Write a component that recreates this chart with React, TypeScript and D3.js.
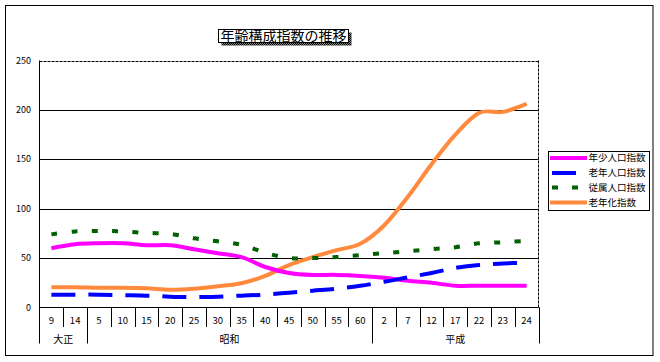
import * as d3 from "d3";
import React, { useEffect, useRef } from "react";

// 年齢構成指数の推移
const categories = ["9", "14", "5", "10", "15", "20", "25", "30", "35", "40", "45", "50", "55", "60", "2", "7", "12", "17", "22", "23", "24"];
const eraNames = ["大正", "昭和", "平成"];
const eraSpans = [2, 12, 7];
const yTicks = [0, 50, 100, 150, 200, 250];

const youthIndex = [60, 64, 65, 65, 63, 63, 59, 55, 51, 41, 35, 33, 33, 32, 30, 27, 25, 22, 22, 22, 22];
const elderlyIndex = [13, 13, 13, 12.5, 12, 11, 10.5, 11, 12, 13, 15, 17, 19, 22, 26, 30.5, 35, 40, 43, 44.5, 45.5];
const dependencyIndex = [74, 77, 77.5, 77, 75.5, 74.5, 70, 67, 63.5, 55.5, 50, 50, 51, 53, 55, 57, 59, 61, 65, 66, 67.5];
const agingIndex = [20.5, 20.5, 20, 20, 19.5, 18, 19, 21.5, 24.5, 32, 43, 51, 58, 64.5, 83, 112, 145, 175, 197, 198, 206];

const seriesNames = ["年少人口指数", "老年人口指数", "従属人口指数", "老年化指数"];

const FONT = "'Noto Sans CJK JP', 'Liberation Sans', sans-serif";
const ORANGE = "#FF8A3D";

export default function App() {
    const svgRef = useRef<SVGSVGElement | null>(null);

    useEffect(() => {
        if (!svgRef.current) return;
        const svg = d3.select(svgRef.current);
        svg.selectAll("*").remove();

        const width = 660;
        const height = 362;
        const left = 39.5, right = 538.5, top = 60.5, bottom = 307.5;

        svg.attr("width", width).attr("height", height);

        // patterns for dithered fills
        const defs = svg.append("defs");
        const chk = (id: string, a: string, b: string) => {
            const p = defs.append("pattern").attr("id", id)
                .attr("patternUnits", "userSpaceOnUse")
                .attr("width", 2).attr("height", 2);
            p.append("rect").attr("width", 2).attr("height", 2).attr("fill", b);
            p.append("rect").attr("width", 1).attr("height", 1).attr("fill", a);
            p.append("rect").attr("x", 1).attr("y", 1).attr("width", 1).attr("height", 1).attr("fill", a);
        };
        chk("greenChk", "#008000", "#004000");
        chk("shadowChk", "#000000", "#808080");

        svg.append("rect").attr("width", width).attr("height", height).attr("fill", "#fff");

        // outer frame
        svg.append("rect")
            .attr("x", 5.5).attr("y", 5.5)
            .attr("width", 647.5).attr("height", 350)
            .attr("fill", "none").attr("stroke", "#000");

        const x = d3.scaleBand<string>().domain(categories).range([left, right]).padding(0);
        const y = d3.scaleLinear().domain([0, 250]).range([bottom, top]);
        const cx = (i: number) => (x(categories[i]) as number) + x.bandwidth() / 2;

        // gridlines
        yTicks.forEach((t) => {
            if (t === 0) return;
            svg.append("line")
                .attr("x1", left).attr("x2", right)
                .attr("y1", Math.round(y(t)) + 0.5).attr("y2", Math.round(y(t)) + 0.5)
                .attr("stroke", "#000")
                .attr("stroke-dasharray", t === 250 ? "3 1" : null);
        });
        // right edge of plot (dashed)
        svg.append("line")
            .attr("x1", right).attr("x2", right)
            .attr("y1", top).attr("y2", bottom)
            .attr("stroke", "#000").attr("stroke-dasharray", "3 1");

        // y labels
        svg.selectAll(".ylab").data(yTicks).enter().append("text")
            .attr("class", "ylab")
            .attr("x", 31).attr("y", (d) => y(d))
            .attr("dy", "0.35em")
            .attr("text-anchor", "end")
            .style("font-family", FONT).style("font-size", "9px")
            .text((d) => d);

        // x axis table
        svg.append("line").attr("x1", left).attr("x2", right)
            .attr("y1", bottom).attr("y2", bottom).attr("stroke", "#000");
        svg.append("line").attr("x1", left).attr("x2", left)
            .attr("y1", top).attr("y2", 343.5).attr("stroke", "#000");
        categories.forEach((c, i) => {
            const xb = Math.round((x(c) as number) + x.bandwidth()) + 0.5;
            svg.append("line").attr("x1", xb).attr("x2", xb)
                .attr("y1", bottom).attr("y2", 327).attr("stroke", "#000");
            svg.append("text")
                .attr("x", cx(i)).attr("y", 320.5)
                .attr("dy", "0.35em").attr("text-anchor", "middle")
                .style("font-family", FONT).style("font-size", "9.5px")
                .text(c);
        });
        let start = 0;
        eraNames.forEach((name, k) => {
            const end = start + eraSpans[k];
            const x0 = x(categories[start]) as number;
            const x1 = (x(categories[end - 1]) as number) + x.bandwidth();
            const xb = Math.round(x1) + 0.5;
            svg.append("line").attr("x1", xb).attr("x2", xb)
                .attr("y1", bottom).attr("y2", 343.5).attr("stroke", "#000");
            svg.append("text")
                .attr("x", (x0 + x1) / 2).attr("y", 339)
                .attr("dy", "0.35em").attr("text-anchor", "middle")
                .style("font-family", FONT).style("font-size", "10px")
                .text(name);
            start = end;
        });

        // series
        const line = d3.line<number>()
            .x((d, i) => cx(i))
            .y((d) => y(d))
            .curve(d3.curveCardinal.tension(0));

        svg.append("path").attr("d", line(agingIndex))
            .attr("fill", "none").attr("stroke", ORANGE).attr("stroke-width", 4);
        svg.append("path").attr("d", line(dependencyIndex))
            .attr("fill", "none").attr("stroke", "url(#greenChk)").attr("stroke-width", 4)
            .attr("stroke-dasharray", "6 14.3");
        svg.append("path").attr("d", line(youthIndex))
            .attr("fill", "none").attr("stroke", "#FF00FF").attr("stroke-width", 4);
        svg.append("path").attr("d", line(elderlyIndex))
            .attr("fill", "none").attr("stroke", "#0000FF").attr("stroke-width", 4)
            .attr("stroke-dasharray", "24 13");

        // title
        svg.append("rect").attr("x", 221.5).attr("y", 32.5).attr("width", 130).attr("height", 13)
            .attr("fill", "url(#shadowChk)");
        svg.append("rect").attr("x", 218.5).attr("y", 29.5).attr("width", 130).attr("height", 13)
            .attr("fill", "#fff").attr("stroke", "#000");
        svg.append("text")
            .attr("x", 283.5).attr("y", 36)
            .attr("dy", "0.36em").attr("text-anchor", "middle")
            .style("font-family", FONT).style("font-size", "14px")
            .text("年齢構成指数の推移");

        // legend
        const lg = svg.append("g");
        lg.append("rect").attr("x", 548.5).attr("y", 151.5).attr("width", 101).attr("height", 59)
            .attr("fill", "#fff").attr("stroke", "#000");
        const rowY = [158, 173, 187.5, 202.5];
        lg.append("line").attr("x1", 550).attr("x2", 587).attr("y1", rowY[0]).attr("y2", rowY[0])
            .attr("stroke", "#FF00FF").attr("stroke-width", 4);
        lg.append("line").attr("x1", 552).attr("x2", 576).attr("y1", rowY[1]).attr("y2", rowY[1])
            .attr("stroke", "#0000FF").attr("stroke-width", 4);
        lg.append("line").attr("x1", 552).attr("x2", 579).attr("y1", rowY[2]).attr("y2", rowY[2])
            .attr("stroke", "url(#greenChk)").attr("stroke-width", 4).attr("stroke-dasharray", "6 14");
        lg.append("line").attr("x1", 550).attr("x2", 587).attr("y1", rowY[3]).attr("y2", rowY[3])
            .attr("stroke", ORANGE).attr("stroke-width", 4);
        seriesNames.forEach((n, i) => {
            lg.append("text")
                .attr("x", 588.5).attr("y", rowY[i])
                .attr("dy", "0.35em")
                .style("font-family", FONT).style("font-size", "9.5px")
                .text(n);
        });
    }, []);

    return <svg ref={svgRef} style={{ position: "absolute", left: 0, top: 0, display: "block" }} />;
}
